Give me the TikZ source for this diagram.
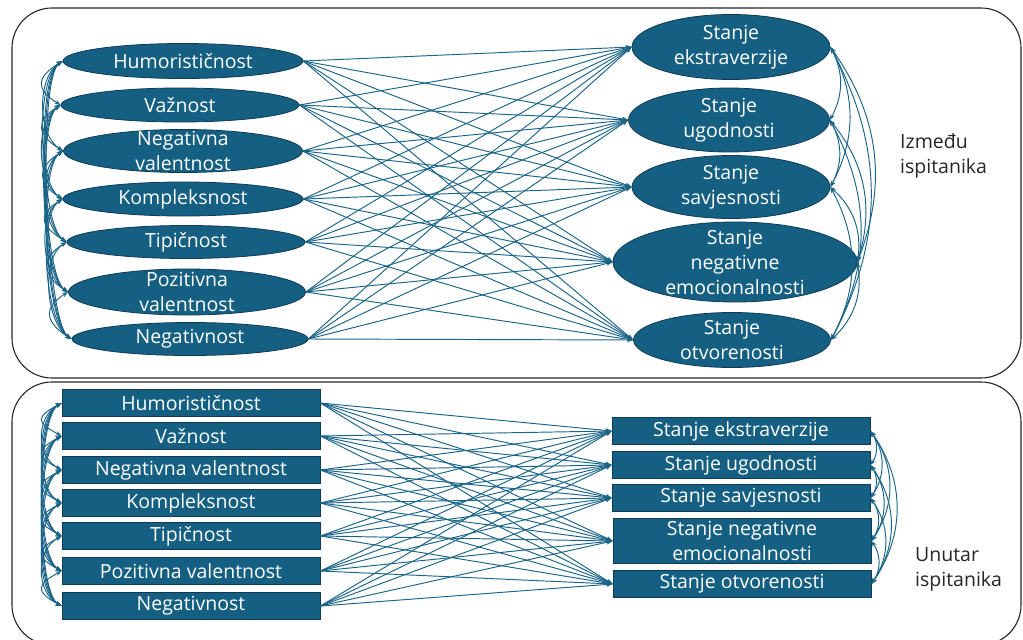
\documentclass[tikz,border=0pt]{standalone}
\usepackage{fontspec}
\setmainfont{Open Sans}
\usetikzlibrary{positioning, shapes.geometric, arrows.meta}

\definecolor{semfill}{HTML}{156082}
\definecolor{semedge}{HTML}{0E3A55}
\definecolor{semlink}{HTML}{1A6488}

\tikzset{
  lat/.style={ellipse, draw=semedge, fill=semfill, line width=0.8pt, inner sep=0pt},
  obs/.style={rectangle, draw=semedge, fill=semfill, line width=0.8pt, inner sep=0pt,
    minimum width=258pt, minimum height=27pt, text=white, align=center,
    font=\fontsize{19.5}{25}\selectfont},
  txt/.style={text=white, align=center, inner sep=0pt, font=\fontsize{19.5}{25}\selectfont},
  reg/.style={->, semlink, line width=0.95pt},
  cov/.style={<->, semlink, line width=0.95pt},
  panel/.style={draw=black!85, line width=1.1pt, rounded corners=40pt},
  side/.style={align=left, text=black!85, inner sep=0pt, font=\fontsize{19.5}{25}\selectfont}
}

\begin{document}
\begin{tikzpicture}[x=1pt, y=-1pt, >={Stealth[length=6pt,width=4.5pt]}]
\path[fill=white] (0,0) rectangle (1023,640);
\useasboundingbox (0,0) rectangle (1023,640);

% panels
\draw[panel] (12,8) rectangle (1021,378);
\draw[panel] (12,382) rectangle (1021,645);

% between persons
\node[lat, minimum width=240pt, minimum height=35pt, label={[txt]center:Humorističnost}] (l1) at (183,61) {};
\node[lat, minimum width=238pt, minimum height=34pt, label={[txt]center:Važnost}] (l2) at (180,105) {};
\node[lat, minimum width=239pt, minimum height=43pt, label={[txt]center:Negativna\\valentnost}] (l3) at (183,151) {};
\node[lat, minimum width=240pt, minimum height=34pt, label={[txt]center:Kompleksnost}] (l4) at (183,199) {};
\node[lat, minimum width=238pt, minimum height=33pt, label={[txt]center:Tipičnost}] (l5) at (186,242) {};
\node[lat, minimum width=237pt, minimum height=46pt, label={[txt]center:Pozitivna\\valentnost}] (l6) at (187,292) {};
\node[lat, minimum width=236pt, minimum height=33pt, label={[txt]center:Negativnost}] (l7) at (190,339) {};

\node[lat, minimum width=198pt, minimum height=65pt, label={[txt]center:Stanje\\ekstraverzije}] (r1) at (731,47) {};
\node[lat, minimum width=201pt, minimum height=64pt, label={[txt]center:Stanje\\ugodnosti}] (r2) at (729,120) {};
\node[lat, minimum width=198pt, minimum height=63pt, label={[txt]center:Stanje\\savjesnosti}] (r3) at (731,187) {};
\node[lat, minimum width=244pt, minimum height=80pt, label={[txt]center:Stanje\\negativne\\emocionalnosti}] (r4) at (735,262) {};
\node[lat, minimum width=197pt, minimum height=55pt, label={[txt]center:Stanje\\otvorenosti}] (r5) at (732,340) {};

\node[side, anchor=west] (izm) at (900,156) {Između\\ispitanika};

\foreach \i in {1,...,7}
  \foreach \j in {1,...,5}
    \draw[reg] (l\i.east) -- (r\j.west);

\foreach \i in {1,...,6}{
  \pgfmathtruncatemacro\nxt{\i+1}
  \foreach \j in {\nxt,...,7}
    \draw[cov] (l\i.west) .. controls +(-26,16) and +(-26,-16) .. (l\j.west);
}
\foreach \i in {1,...,4}{
  \pgfmathtruncatemacro\nxt{\i+1}
  \foreach \j in {\nxt,...,5}
    \draw[cov] (r\i.east) to[bend left=28] (r\j.east);
}

% within persons
\node[obs] (bl1) at (191,403) {Humorističnost};
\node[obs] (bl2) at (191,436) {Važnost};
\node[obs] (bl3) at (191,470) {Negativna valentnost};
\node[obs] (bl4) at (191,503) {Kompleksnost};
\node[obs] (bl5) at (191,536) {Tipičnost};
\node[obs] (bl6) at (191,571) {Pozitivna valentnost};
\node[obs] (bl7) at (191,606) {Negativnost};

\node[obs] (br1) at (741,431) {Stanje ekstraverzije};
\node[obs] (br2) at (741,465) {Stanje ugodnosti};
\node[obs] (br3) at (741,498) {Stanje savjesnosti};
\node[obs, minimum height=45pt] (br4) at (742,541) {Stanje negativne\\emocionalnosti};
\node[obs] (br5) at (742,584) {Stanje otvorenosti};

\node[side, anchor=west] (unu) at (915,569) {Unutar\\ispitanika};

\foreach \i in {1,...,7}
  \foreach \j in {1,...,5}
    \draw[reg] (bl\i.east) -- (br\j.west);

\foreach \i in {1,...,6}{
  \pgfmathtruncatemacro\nxt{\i+1}
  \foreach \j in {\nxt,...,7}
    \draw[cov] (bl\i.west) .. controls +(-26,14) and +(-26,-14) .. (bl\j.west);
}
\foreach \i in {1,...,4}{
  \pgfmathtruncatemacro\nxt{\i+1}
  \foreach \j in {\nxt,...,5}
    \draw[cov] (br\i.east) to[bend left=35] (br\j.east);
}
\end{tikzpicture}
\end{document}
